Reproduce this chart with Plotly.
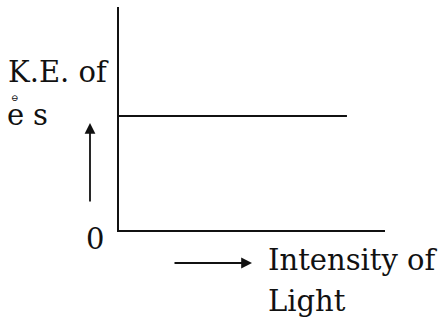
import plotly.graph_objects as go

# Kinetic energy of photo-electrons does not depend on light intensity
intensity = [0.0, 0.857]
kinetic_energy = [0.511, 0.511]

x_label = ["Intensity of", "Light"]
y_label = ["K.E. of", "e", "s"]
origin_label = "0"

FONT = "DejaVu Serif, Liberation Serif, serif"
INK = "#111111"

fig = go.Figure(go.Scatter(
    x=intensity, y=kinetic_energy, mode="lines",
    line=dict(color=INK, width=2),
    hoverinfo="skip",
))

fig.update_xaxes(range=[0, 1], showline=True, linecolor=INK, linewidth=2,
                 showgrid=False, zeroline=False, showticklabels=False, ticks="")
fig.update_yaxes(range=[0, 1], showline=True, linecolor=INK, linewidth=2,
                 showgrid=False, zeroline=False, showticklabels=False, ticks="")

W, H = 266, 223  # plot area in px


def px(x, y):
    # pixel position on the page -> paper coords
    return (x - 119) / W, (230 - y) / H


notes = []


def text(s, x, y, size=29, xanchor="left"):
    xp, yp = px(x, y)
    notes.append(dict(text=s, x=xp, y=yp, xref="paper", yref="paper",
                      xanchor=xanchor, yanchor="middle", showarrow=False,
                      font=dict(family=FONT, size=size, color=INK)))


text(y_label[0], 6, 72)
text(y_label[1], 5, 115)
text(y_label[2], 31, 115)
text("⊖", 9, 98, size=9)
text(origin_label, 95, 239, xanchor="center")
text(x_label[0], 266, 260)
text(x_label[1], 266, 301)

# arrows
hx, hy = px(90, 123)
notes.append(dict(x=hx, y=hy, xref="paper", yref="paper", ax=0, ay=80,
                  showarrow=True, arrowhead=2, arrowsize=1.2, arrowwidth=1.8,
                  arrowcolor=INK, text=""))
hx, hy = px(252, 263)
notes.append(dict(x=hx, y=hy, xref="paper", yref="paper", ax=-79, ay=0,
                  showarrow=True, arrowhead=2, arrowsize=1.2, arrowwidth=1.8,
                  arrowcolor=INK, text=""))

fig.update_layout(
    width=445, height=324,
    margin=dict(l=119, r=60, t=7, b=94),
    plot_bgcolor="white", paper_bgcolor="white",
    showlegend=False,
    annotations=notes,
)

fig.write_html("out.html", config={"displayModeBar": False},
               post_script="document.body.style.margin='0';")
